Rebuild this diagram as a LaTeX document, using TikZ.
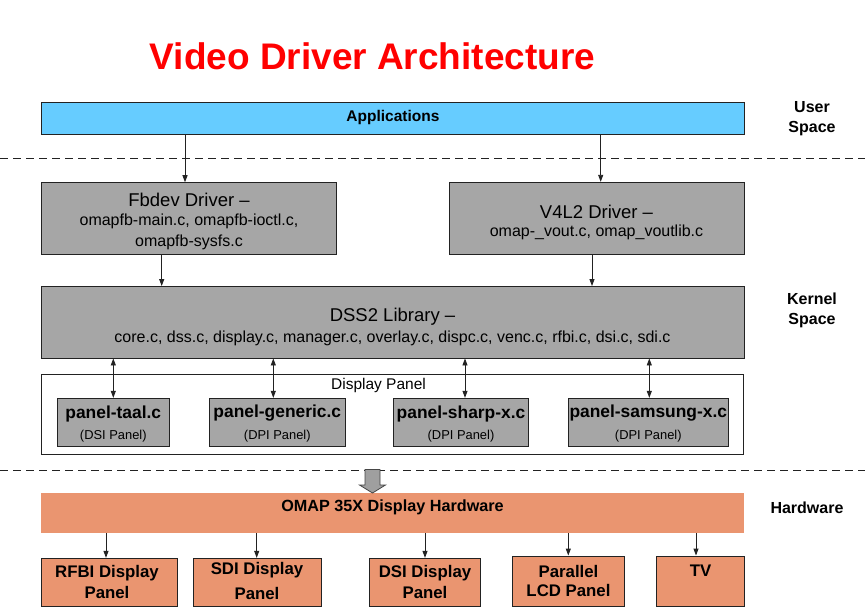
\documentclass[tikz,border=0pt]{standalone}
\usepackage{fontspec}
\setmainfont{Liberation Sans}
\usetikzlibrary{arrows.meta,fit}
\definecolor{appblue}{HTML}{66CCFF}
\definecolor{boxgray}{HTML}{A6A6A6}
\definecolor{hworange}{HTML}{EA9570}
\definecolor{titlered}{HTML}{FF0000}
\definecolor{edge}{HTML}{222222}
\tikzset{
  box/.style={draw=edge, line width=0.9pt, inner sep=0pt, rectangle},
  graybox/.style={box, fill=boxgray},
  orangebox/.style={box, fill=hworange},
  hd/.style={inner sep=0pt, align=center, font=\fontsize{18.5}{21}\selectfont, text=black},
  sub/.style={inner sep=0pt, align=center, font=\fontsize{16}{20.5}\selectfont},
  pname/.style={inner sep=0pt, align=center, font=\fontsize{17.4}{20}\selectfont\bfseries},
  psub/.style={inner sep=0pt, align=center, font=\fontsize{12.9}{15}\selectfont},
  hwtext/.style={inner sep=0pt, align=center, font=\fontsize{16.8}{19}\selectfont\bfseries},
  side/.style={inner sep=0pt, align=center, font=\fontsize{16}{20.5}\selectfont\bfseries},
  arr/.style={line width=0.9pt, draw=edge, -{Triangle[length=7pt,width=5pt]}},
  darr/.style={line width=0.9pt, draw=edge, {Triangle[length=7pt,width=5pt]}-{Triangle[length=7pt,width=5pt]}},
  sep/.style={line width=0.9pt, draw=edge, dash pattern=on 8pt off 5pt},
}
\begin{document}
\begin{tikzpicture}[x=1pt,y=-1pt]
\useasboundingbox (0,0) rectangle (865,607);
\fill[white] (0,0) rectangle (865,607);

% title
\node[inner sep=0pt, anchor=base, text=titlered, font=\fontsize{37}{40}\selectfont\bfseries] (title) at (372.5,70) {Video Driver Architecture};

% separators
\coordinate (s1l) at (0,158);
\coordinate (s1r) at (865,158);
\coordinate (s2l) at (0,470);
\coordinate (s2r) at (865,470);
\draw[sep] (s1l) -- (s1r);
\draw[sep] (s2l) -- (s2r);

% user space
\node[box, fill=appblue, fit={(41.5,102.3) (744.5,134)}] (app) {};
\node[inner sep=0pt, font=\fontsize{15.5}{18}\selectfont\bfseries] (appt) at ([yshift=1pt]app.center) {Applications};

% drivers
\node[graybox, fit={(41,182.7) (336.7,254)}] (fb) {};
\node[hd] (fbh) at (189,200) {Fbdev Driver --};
\node[sub] (fbs) at (189,232) {omapfb-main.c, omapfb-ioctl.c,\\omapfb-sysfs.c};

\node[graybox, fit={(449,182.3) (744,254)}] (v4l) {};
\node[hd] (v4h) at (596.5,211.5) {V4L2 Driver --};
\node[sub] (v4s) at (596.5,232.5) {omap-\_vout.c, omap\_voutlib.c};

% DSS2
\node[graybox, fit={(41,286.5) (744,358)}] (dss) {};
\node[hd] (dssh) at (392.5,316.5) {DSS2 Library --};
\node[sub] (dsss) at (392.5,338) {core.c, dss.c, display.c, manager.c, overlay.c, dispc.c, venc.c, rfbi.c, dsi.c, sdi.c};

% display panel
\node[box, fill=white, fit={(41.5,374) (743.5,454.3)}] (dp) {};
\node[inner sep=0pt, font=\fontsize{15.5}{18}\selectfont] (dpt) at (378.5,385) {Display Panel};

\node[graybox, fit={(57.3,398.3) (169.3,446)}] (taal) {};
\node[graybox, fit={(209.3,398.3) (345.3,446)}] (gen) {};
\node[graybox, fit={(393.3,398.3) (528.7,446)}] (sharp) {};
\node[graybox, fit={(568.3,398.3) (728.3,446)}] (sam) {};
\node[pname] (taaln) at (113.3,413.5) {panel-taal.c};
\node[psub] (taals) at (113.3,436) {(DSI Panel)};
\node[pname] (genn) at (277.3,413.5) {panel-generic.c};
\node[psub] (gens) at (277.3,436) {(DPI Panel)};
\node[pname] (sharpn) at (461,413.5) {panel-sharp-x.c};
\node[psub] (sharps) at (461,436) {(DPI Panel)};
\node[pname] (samn) at (648.3,413.5) {panel-samsung-x.c};
\node[psub] (sams) at (648.3,436) {(DPI Panel)};

% hardware
\node[box, draw=none, fill=hworange, fit={(41,492.7) (744,532.7)}] (omap) {};
\node[hwtext, font=\fontsize{16.2}{19}\selectfont\bfseries] (omapt) at (392.5,507.5) {OMAP 35X Display Hardware};

\node[orangebox, fit={(41.7,558.3) (177.3,606.5)}] (rfbi) {};
\node[orangebox, fit={(193.3,558.3) (321,606.5)}] (sdi) {};
\node[orangebox, fit={(369,558.3) (480.7,606.5)}] (dsi) {};
\node[orangebox, fit={(512.7,556) (624.3,606.5)}] (par) {};
\node[orangebox, fit={(656.7,556) (744.3,606.5)}] (tv) {};
\node[hwtext] (rfbit) at (107,573) {RFBI Display};
\node[hwtext] (rfbit2) at (107,592) {Panel};
\node[hwtext] (sdit) at (257,570.5) {SDI Display};
\node[hwtext] (sdit2) at (257,593.5) {Panel};
\node[hwtext] (dsit) at (425,573.5) {DSI Display};
\node[hwtext] (dsit2) at (425,592) {Panel};
\node[hwtext] (part) at (568.5,571) {Parallel};
\node[hwtext] (part2) at (568.5,590) {LCD Panel};
\node[hwtext] (tvt) at (700.5,570.5) {TV};

% side labels
\node[side] (us) at (812,118.5) {User\\Space};
\node[side] (ks) at (812,310.5) {Kernel\\Space};
\node[side] (hw) at (807,508) {Hardware};

% arrow x positions
\coordinate (xa) at (185,0);
\coordinate (xb) at (600.7,0);
\coordinate (xc) at (161.7,0);
\coordinate (xd) at (592,0);
\coordinate (p1) at (113.3,0);
\coordinate (p2) at (273.3,0);
\coordinate (p3) at (465,0);
\coordinate (p4) at (649.3,0);
\coordinate (h1) at (106,0);
\coordinate (h2) at (256.7,0);
\coordinate (h3) at (425,0);
\coordinate (h4) at (568.3,0);
\coordinate (h5) at (696,0);

\draw[arr] (app.south -| xa) -- (fb.north -| xa);
\draw[arr] (app.south -| xb) -- (v4l.north -| xb);
\draw[arr] (fb.south -| xc) -- (dss.north -| xc);
\draw[arr] (v4l.south -| xd) -- (dss.north -| xd);

\draw[darr] (dss.south -| p1) -- (taal.north -| p1);
\draw[darr] (dss.south -| p2) -- (gen.north -| p2);
\draw[darr] (dss.south -| p3) -- (sharp.north -| p3);
\draw[darr] (dss.south -| p4) -- (sam.north -| p4);

\draw[arr] (omap.south -| h1) -- (rfbi.north -| h1);
\draw[arr] (omap.south -| h2) -- (sdi.north -| h2);
\draw[arr] (omap.south -| h3) -- (dsi.north -| h3);
\draw[arr] (omap.south -| h4) -- (par.north -| h4);
\draw[arr] (omap.south -| h5) -- (tv.north -| h5);

% hollow block arrow
\draw[fill=gray!75, draw=gray!55!black, line width=0.8pt, line join=miter]
  (365,469.5) -- (380,469.5) -- (380,485) -- (385.5,485) -- (372.5,493) -- (359.5,485) -- (365,485) -- cycle;
\end{tikzpicture}
\end{document}
